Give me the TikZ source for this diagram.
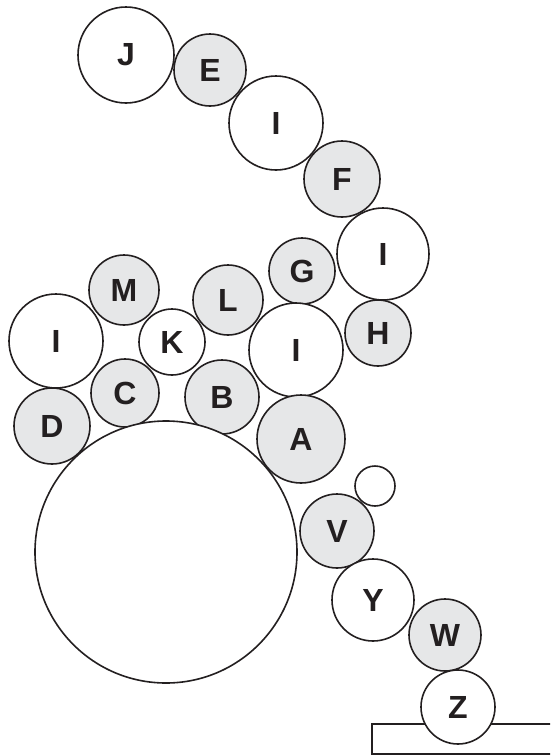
\documentclass[tikz,border=0pt]{standalone}
\usepackage{fontspec}
\setmainfont{Liberation Sans}
\definecolor{ink}{HTML}{231F20}
\definecolor{shade}{HTML}{E6E7E8}
\begin{document}
\begin{tikzpicture}[x=1pt,y=-1pt,
  roll/.style={circle,draw=ink,line width=1.6pt,inner sep=0pt,outer sep=0pt,
    minimum size=2*#1 pt,font=\fontsize{32}{32}\selectfont\bfseries,text=ink},
  wroll/.style={roll=#1,fill=white},
  groll/.style={roll=#1,fill=shade}]
\useasboundingbox (0,0) rectangle (550,756);
\clip (0,0) rectangle (550,756);
\node[draw=ink,line width=1.6pt,minimum width=200pt,minimum height=30pt,anchor=north west,inner sep=0pt] (base) at (371,723) {};
\node[wroll=48] (J) at (126,55) {J};
\node[groll=36] (E) at (210,70) {E};
\node[wroll=47] (I1) at (276,123) {I};
\node[groll=38] (F) at (342,179) {F};
\node[wroll=46] (I2) at (383,254) {I};
\node[groll=33] (G) at (302,271) {G};
\node[groll=33] (H) at (378,333) {H};
\node[groll=35] (M) at (124,290) {M};
\node[groll=35] (L) at (228,300) {L};
\node[wroll=47] (I3) at (56,341) {I};
\node[wroll=33] (K) at (172,342) {K};
\node[wroll=47] (I4) at (296,350) {I};
\node[groll=34] (C) at (125,393) {C};
\node[groll=37] (B) at (222,397) {B};
\node[groll=38] (D) at (52,426) {D};
\node[groll=44] (A) at (301,439) {A};
\node[wroll=131] (big) at (166,552) {};
\node[wroll=20] (small) at (375,486) {};
\node[groll=37] (V) at (337,531) {V};
\node[wroll=41] (Y) at (373,600) {Y};
\node[groll=36] (W) at (445,635) {W};
\node[wroll=37] (Z) at (458,707) {Z};
\end{tikzpicture}
\end{document}
